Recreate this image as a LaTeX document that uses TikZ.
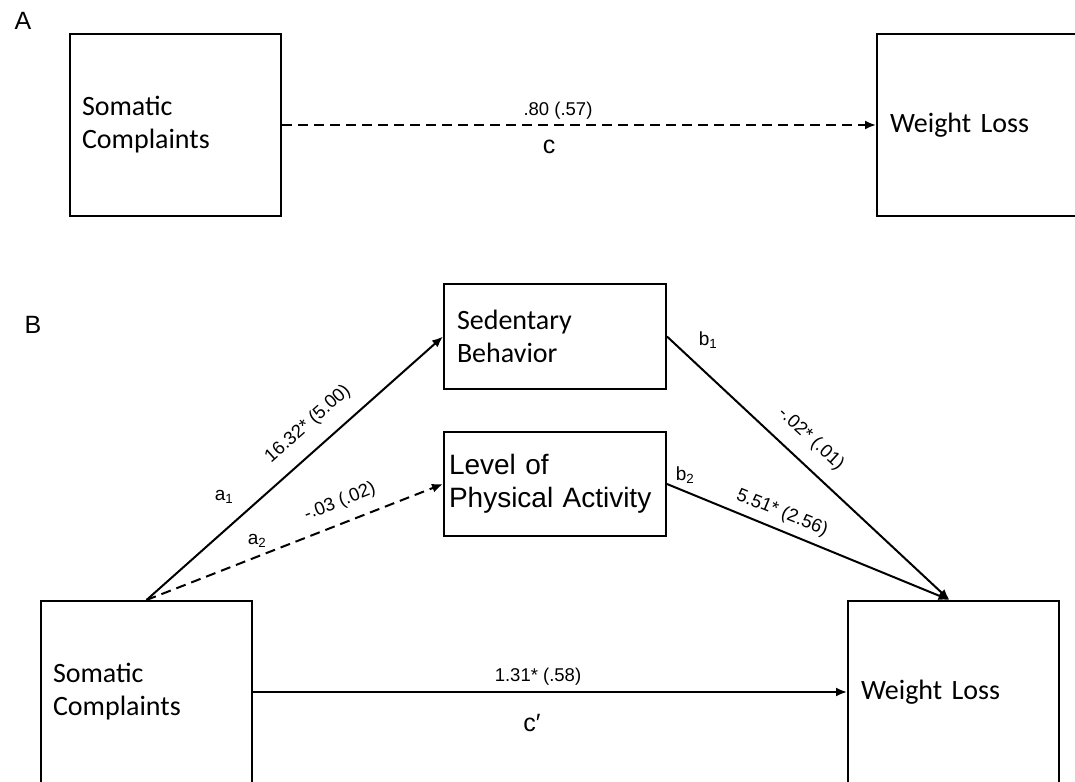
\documentclass[tikz,border=0pt]{standalone}
\usepackage{fontspec}
\setmainfont{Liberation Sans}
\newfontfamily\calibrifont{Carlito}
\usetikzlibrary{arrows.meta}
\tikzset{
  box/.style={draw, line width=2pt, rectangle, anchor=north west, inner ysep=0pt, align=left},
  boxtext/.style={font=\calibrifont\fontsize{28}{33}\selectfont},
  arialbox/.style={font=\fontsize{28}{33}\selectfont},
  conn/.style={line width=2pt, -{Latex[length=11pt,width=9pt]}},
  dconn/.style={conn, dash pattern=on 10pt off 6pt},
  coef/.style={font=\fontsize{18.5}{20}\selectfont, inner sep=0pt},
  pathlbl/.style={font=\fontsize{25}{27}\selectfont, inner sep=0pt},
  sublbl/.style={font=\fontsize{19}{20}\selectfont, inner sep=0pt},
  panel/.style={font=\fontsize{25}{27}\selectfont, inner sep=0pt}
}
\begin{document}
\begin{tikzpicture}[x=1pt,y=-1pt]
\useasboundingbox (0,0) rectangle (1075,781);
\clip (0,0) rectangle (1075,781);
% panel A
\node[panel] (labA) at (23,21) {A};
\node[box, boxtext, inner xsep=12pt, text width=187pt, minimum height=182pt] (somA) at (69,33) {Somatic\\Complaints};
\node[box, boxtext, inner xsep=13pt, text width=185pt, minimum height=182pt] (wlA) at (876,33) {Weight Loss};
\draw[dconn] (somA.east) -- (wlA.west);
\node[coef] (cA) at (558,111) {.80 (.57)};
\node[pathlbl] (cAl) at (549,147) {c};
% panel B
\node[panel] (labB) at (33,325) {B};
\node[box, boxtext, inner xsep=13pt, text width=196pt, minimum height=105pt] (sed) at (443,283) {Sedentary\\Behavior};
\node[box, arialbox, inner xsep=5pt, text width=212pt, minimum height=104pt] (phys) at (443,431) {Level of\\Physical Activity};
\node[box, boxtext, inner xsep=12pt, text width=187pt, minimum height=182pt] (somB) at (40,600) {Somatic\\Complaints};
\node[box, boxtext, inner xsep=13pt, text width=185pt, minimum height=182pt] (wlB) at (847,600) {Weight Loss};
\draw[conn] (somB.north) -- (sed.west);
\draw[dconn] (somB.north) -- (phys.west);
\draw[conn] (sed.east) -- ([xshift=-4pt]wlB.north);
\draw[conn] (phys.east) -- ([xshift=-4pt]wlB.north);
\draw[conn] (somB.east) -- (wlB.west);
% coefficient labels
\node[coef, rotate=41.6] (la1) at (308,424) {16.32* (5.00)};
\node[coef, rotate=21.5] (la2) at (340,502) {-.03 (.02)};
\node[coef, rotate=-42.6] (lb1) at (811,439) {-.02* (.01)};
\node[coef, rotate=-22.1] (lb2) at (782,513) {5.51* (2.56)};
\node[coef] (lc) at (538,677) {1.31* (.58)};
\node[pathlbl] (lcl) at (532,723) {c′};
\node[sublbl] (a1) at (224,497) {a\textsubscript{1}};
\node[sublbl] (a2) at (257,541) {a\textsubscript{2}};
\node[sublbl] (b1) at (708,340) {b\textsubscript{1}};
\node[sublbl] (b2) at (685,475) {b\textsubscript{2}};
\end{tikzpicture}
\end{document}
